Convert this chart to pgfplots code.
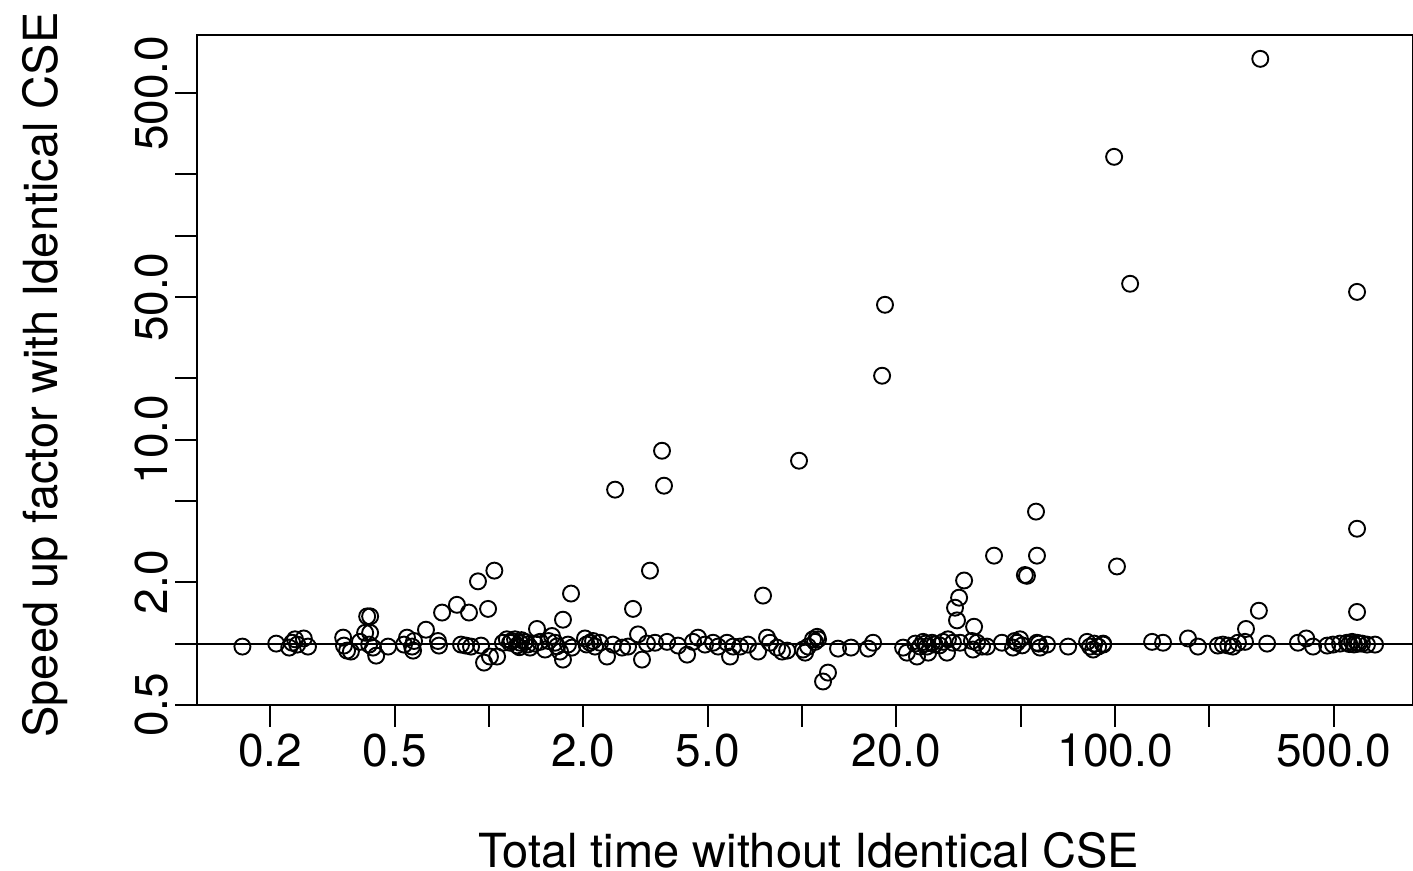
\documentclass[border=0pt]{standalone}
\usepackage{fontspec}
\setmainfont{TeX Gyre Heros}
\usepackage{pgfplots}
\pgfplotsset{compat=1.18}
\usepackage{pgfplotstable}
\pgfplotstableread{
x y
291 738
99.3 244
111.7 58.2
593 53.1
18.41 45.9
18.02 20.6
3.57 8.83
9.78 7.89
2.528 5.69
3.623 5.95
55.9 4.44
593 3.66
41.05 2.70
56.3 2.70
101.4 2.39
52.3 2.15
51.5 2.17
32.94 2.04
3.267 2.28
1.828 1.76
7.507 1.72
31.75 1.68
30.81 1.50
31.27 1.30
35.45 1.21
288 1.45
593 1.43
262 1.18
2.884 1.48
0.922 2.02
1.04 2.28
0.993 1.48
0.79 1.55
0.708 1.42
0.863 1.42
0.408 1.36
0.417 1.36
0.402 1.13
0.417 1.13
0.629 1.17
1.423 1.18
1.723 1.31
12.1 0.721
11.67 0.652
3.081 0.835
0.964 0.807
1.007 0.864
1.061 0.864
1.723 0.835
0.436 0.873
0.163 0.967
0.209 1.0
0.230 0.956
0.235 1.01
0.240 1.05
0.244 0.989
0.256 1.06
0.264 0.967
0.342 1.07
0.344 0.978
0.352 0.924
0.362 0.914
0.387 1.02
0.414 0.989
0.426 0.956
0.476 0.967
0.547 1.07
0.535 0.989
0.568 0.967
0.572 0.924
0.576 1.03
0.687 1.03
0.692 0.978
0.814 0.989
0.844 0.978
0.876 0.967
0.943 0.978
1.108 1.01
1.167 1.01
1.14 1.05
1.211 1.05
1.256 1.01
1.303 1.02
1.352 0.956
1.455 1.02
1.51 0.935
1.589 1.09
1.625 1.01
1.686 0.914
1.787 0.989
1.84 0.956
2.026 1.06
2.102 1.01
2.181 0.967
2.263 1.01
2.382 0.864
2.489 0.989
2.661 0.956
2.78 0.967
2.992 1.11
3.197 1.0
3.391 1.01
3.705 1.02
4.018 0.978
4.293 0.883
4.485 1.02
4.651 1.07
4.899 0.989
5.196 1.01
5.392 0.967
5.757 1.01
5.888 0.864
6.023 0.967
6.34 0.967
6.719 0.989
7.236 0.914
7.73 1.07
7.9 1.01
8.32 0.956
8.63 0.914
8.96 0.924
10.07 0.935
10.84 1.05
11.17 1.08
1.18 1.03
1.23 0.98
1.27 1.04
1.33 0.99
1.40 1.0
1.55 1.03
1.65 0.97
2.05 0.99
2.15 1.03
1.25 0.96
10.23 0.903
10.45 0.967
11.0 1.02
11.25 1.05
13.03 0.945
14.34 0.956
16.26 0.945
16.86 1.01
21.03 0.956
21.63 0.903
23.29 0.864
23.82 0.967
24.37 1.02
25.08 0.967
25.29 0.903
26.02 1.01
28.2 1.02
29.04 0.903
29.25 1.05
30.35 1.01
31.97 1.01
34.9 1.03
35.16 0.935
36.23 1.01
37.58 0.967
38.99 0.967
43.5 1.01
47.2 0.956
48.6 1.01
49.7 1.05
56.3 1.01
57.6 0.956
60.6 0.989
70.8 0.967
81.4 1.02
83.2 0.967
85.1 0.935
88.3 0.967
91.6 1.0
24.8 1.0
26.5 0.99
27.5 0.98
23.0 1.0
50.5 0.98
47.8 1.03
57.0 1.0
85.8 1.0
91.6 0.989
131.3 1.02
142.3 1.01
171 1.06
184 0.967
213 0.978
221 0.989
230 0.978
238 0.967
247 1.01
260 1.02
306 1.0
384 1.01
408 1.06
429 0.967
476 0.978
497 0.989
523 1.0
551 1.01
572 1.02
593 1.01
615 1.0
638 0.989
677 0.989
580 0.99
600 1.0
560 0.995
}\pts
\begin{document}
\begin{tikzpicture}
\begin{axis}[
  at={(0,0)}, anchor=south west, scale only axis,
  width=608pt, height=335pt,
  xmode=log, ymode=log,
  xmin=0.1167, xmax=895, ymin=0.5, ymax=966,
  axis line style={line width=1pt},
  tick style={line width=1pt, black},
  tick align=outside, major tick length=11pt,
  xtick pos=bottom, ytick pos=left,
  minor xtick={}, minor ytick={},
  xtick={0.2,0.5,1,2,5,10,20,50,100,200,500},
  xticklabels={0.2,0.5,,2.0,5.0,,20.0,,100.0,,500.0},
  ytick={0.5,1,2,5,10,20,50,100,200,500},
  yticklabels={0.5,,2.0,,10.0,,50.0,,,500.0},
  font=\fontsize{23}{27}\selectfont,
  yticklabel style={rotate=90, anchor=south},
  xlabel={Total time without Identical CSE},
  ylabel={Speed up factor with Identical CSE},
  xlabel style={at={(axis description cs:0.503,-0.2164)}, anchor=center, inner sep=1pt, font=\fontsize{23.5}{27}\selectfont},
  ylabel style={at={(axis description cs:-0.125,0.4925)}, anchor=center, inner sep=1pt, font=\fontsize{23.5}{27}\selectfont},
]
\addplot[black, line width=1pt] coordinates {(0.1167,1) (895,1)};
\addplot[only marks, black, mark=o, mark size=4pt, mark options={line width=0.95pt}] table {\pts};
\end{axis}
\pgfresetboundingbox
\path (-98.5pt,-83pt) rectangle (608pt,352.5pt);
\end{tikzpicture}
\end{document}
